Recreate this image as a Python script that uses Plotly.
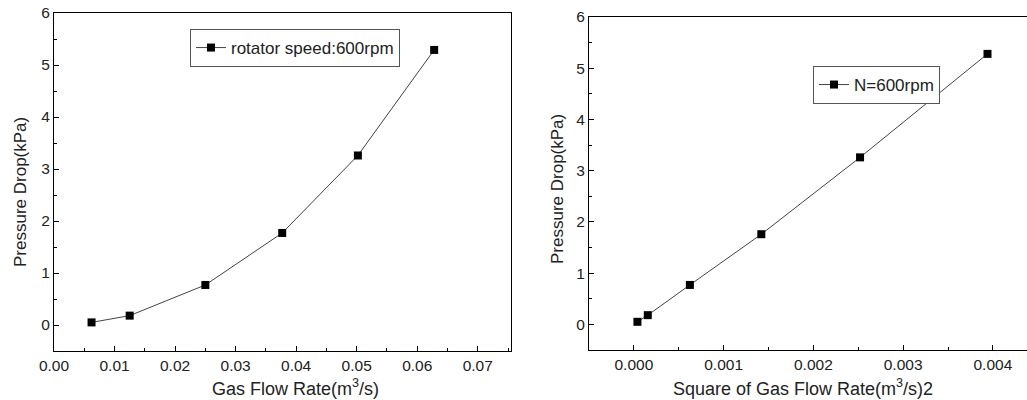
import plotly.graph_objects as go

# Left chart data
flow_rate = [0.0062, 0.0125, 0.025, 0.0377, 0.0502, 0.0628]
pressure_drop_left = [0.05, 0.18, 0.77, 1.77, 3.26, 5.29]
# Right chart data
flow_rate_sq = [0.00004, 0.000155, 0.000624, 0.00142, 0.00252, 0.00394]
pressure_drop_right = [0.05, 0.18, 0.77, 1.76, 3.26, 5.28]

left_ticks = [0.00, 0.01, 0.02, 0.03, 0.04, 0.05, 0.06, 0.07]
left_ticklabels = ["0.00", "0.01", "0.02", "0.03", "0.04", "0.05", "0.06", "0.07"]
right_ticks = [0.000, 0.001, 0.002, 0.003, 0.004]
right_ticklabels = ["0.000", "0.001", "0.002", "0.003", "0.004"]
y_ticks = [0, 1, 2, 3, 4, 5, 6]

FONT = "Arial, Liberation Sans, sans-serif"
TXT = "#222222"
fig = go.Figure()

marker = dict(symbol="square", size=8, color="black")
line = dict(color="#444444", width=1)

fig.add_trace(go.Scatter(x=flow_rate, y=pressure_drop_left, mode="lines+markers",
                         name="rotator speed:600rpm", marker=marker, line=line,
                         xaxis="x", yaxis="y", legend="legend", showlegend=True))
fig.add_trace(go.Scatter(x=flow_rate_sq, y=pressure_drop_right, mode="lines+markers",
                         name="N=600rpm", marker=marker, line=line,
                         xaxis="x2", yaxis="y2", legend="legend2", showlegend=True))

axis_common = dict(showgrid=False, zeroline=False, showline=True, linecolor="black",
                   linewidth=1, ticks="inside", ticklen=5, tickcolor="black",
                   automargin=False,
                   tickfont=dict(size=15.5, color=TXT, family=FONT),
                   minor=dict(ticks="inside", ticklen=3, tickcolor="black"))

legend_style = dict(xanchor="left", yanchor="top", bordercolor="#555555", borderwidth=1,
                    bgcolor="white", font=dict(size=17, family=FONT, color=TXT))

fig.update_layout(
    width=1027, height=400,
    margin=dict(l=0, r=0, t=0, b=0, autoexpand=False),
    paper_bgcolor="white", plot_bgcolor="white",
    showlegend=True,
    font=dict(family=FONT, color=TXT),
    xaxis=dict(**axis_common, domain=[0.0526, 0.4976], range=[0, 0.0755],
               tickvals=left_ticks, ticktext=left_ticklabels, mirror=True,
               minor_dtick=0.005, anchor="y"),
    yaxis=dict(**axis_common, domain=[0.1225, 0.9675], range=[-0.5, 6],
               tickvals=y_ticks, mirror=True, minor_dtick=0.5, anchor="x"),
    xaxis2=dict(**axis_common, domain=[0.5735, 1.0], range=[-0.0005, 0.00438],
                tickvals=right_ticks, ticktext=right_ticklabels, mirror=True,
                minor_dtick=0.0005, anchor="y2"),
    yaxis2=dict(**axis_common, domain=[0.125, 0.9575], range=[-0.5, 6],
                tickvals=y_ticks, mirror=False, minor_dtick=0.5, anchor="x2"),
    legend=dict(**legend_style, x=190 / 1027, y=1 - 29 / 400),
    legend2=dict(**legend_style, x=813 / 1027, y=1 - 66 / 400),
)

xt_font = dict(size=18, family=FONT, color=TXT)
yt_font = dict(size=17, family=FONT, color=TXT)
annots = [
    dict(text="Gas Flow Rate(m<sup>3</sup>/s)", x=295.5 / 1027, y=1 - 387 / 400, font=xt_font),
    dict(text="Square of Gas Flow Rate(m<sup>3</sup>/s)2", x=803 / 1027, y=1 - 387 / 400, font=xt_font),
    dict(text="Pressure Drop(kPa)", x=20 / 1027, y=1 - 192 / 400, textangle=-90, font=yt_font),
    dict(text="Pressure Drop(kPa)", x=558 / 1027, y=1 - 189 / 400, textangle=-90, font=yt_font),
]
for a in annots:
    fig.add_annotation(xref="paper", yref="paper", showarrow=False,
                       xanchor="center", yanchor="middle", **a)

fig.write_html("out.html", config={"displayModeBar": False},
               post_script="document.body.style.margin='0';")
